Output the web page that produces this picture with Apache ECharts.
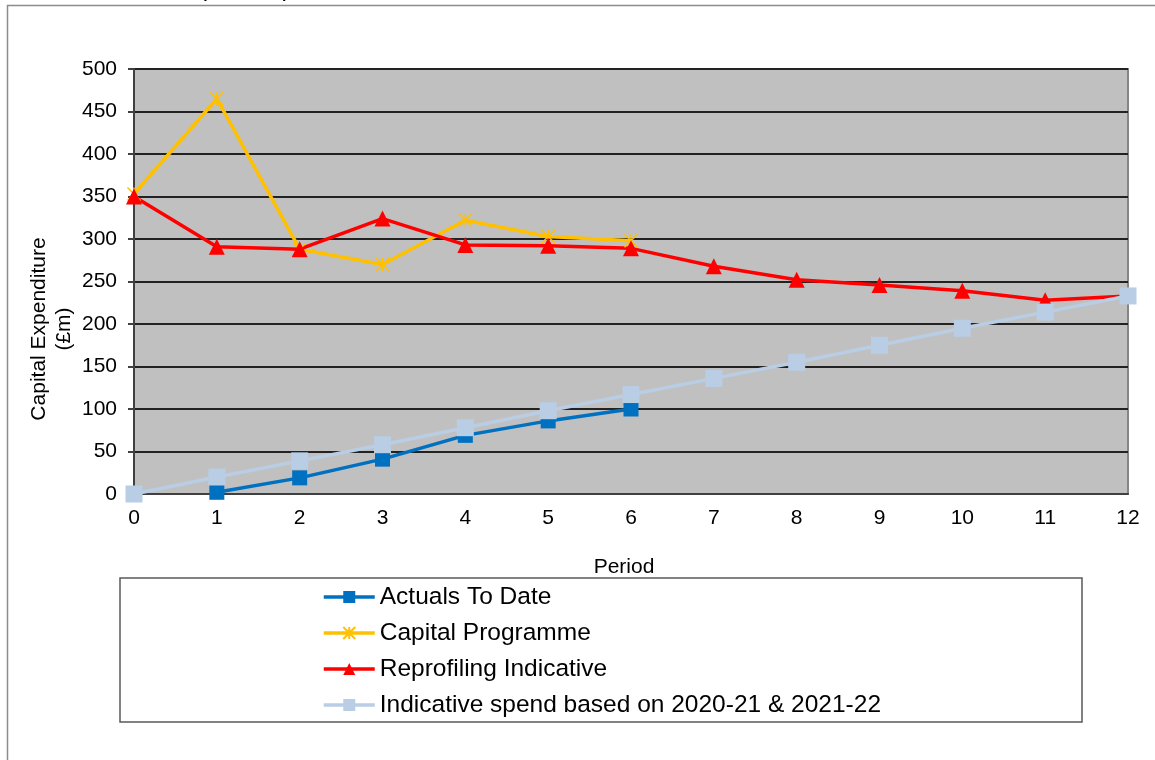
<!DOCTYPE html>
<html>
<head>
<meta charset="utf-8">
<title>Capital Expenditure</title>
<script src="https://cdn.jsdelivr.net/npm/echarts@6/dist/echarts.min.js"></script>
<style>
  html, body { margin: 0; padding: 0; background: #ffffff; }
  #chart { width: 1155px; height: 760px; }
</style>
</head>
<body>
<div id="chart"></div>
<script>
// Periods along the x axis
const periods = ['0', '1', '2', '3', '4', '5', '6', '7', '8', '9', '10', '11', '12'];

// Capital expenditure (£m) per period
const actualsToDate = [null, 2, 19, 41, 69, 86, 100, null, null, null, null, null, null];
const capitalProgramme = [353, 465, 288, 270, 322, 303, 298, null, null, null, null, null, null];
const reprofilingIndicative = [350, 291, 288, 324, 293, 292, 289, 268, 252, 246, 239, 228, 233];
const indicativeSpend = [0, 20, 39, 58, 78, 98, 117, 136, 155, 175, 195, 214, 233];

// Y axis range
const yMin = 0;
const yMax = 500;
const yStep = 50;

const FONT = "'Liberation Sans', Arial, sans-serif";

const chart = echarts.init(document.getElementById('chart'), null, { renderer: 'canvas' });

// asterisk-style marker (x with a vertical stroke)
const starPath = 'path://M0,0L10,10M10,0L0,10M5,0L5,10';

chart.setOption({
  backgroundColor: '#ffffff',
  animation: false,
  textStyle: { fontFamily: FONT },
  grid: {
    left: 134, top: 69, right: 27, bottom: 266,
    show: true,
    backgroundColor: '#c0c0c0',
    borderColor: '#858585',
    borderWidth: 2
  },
  graphic: [
    // outer frame
    {
      type: 'rect', silent: true, z: -10,
      shape: { x: 7.5, y: 5.5, width: 1300, height: 900 },
      style: { fill: 'none', stroke: '#8c8c8c', lineWidth: 1.5 }
    },
    // chart heading running off the top edge
    {
      type: 'text', silent: true,
      style: {
        x: 172, y: -10.5, text: 'Capital Expenditure',
        font: "24px 'Liberation Sans', Arial, sans-serif",
        fill: '#000000', verticalAlign: 'middle'
      }
    },
    // y axis title
    {
      type: 'text', silent: true,
      x: 52, y: 329, rotation: Math.PI / 2,
      style: {
        text: 'Capital Expenditure\n(£m)',
        font: "21px 'Liberation Sans', Arial, sans-serif",
        lineHeight: 25,
        fill: '#000000', align: 'center', verticalAlign: 'middle'
      }
    },
    // legend box
    {
      type: 'rect', silent: true, z: -1,
      shape: { x: 120, y: 578, width: 962, height: 144 },
      style: { fill: '#ffffff', stroke: '#5a5a5a', lineWidth: 1.5 }
    }
  ],
  legend: {
    orient: 'vertical',
    left: 322, top: 584,
    itemWidth: 51, itemHeight: 15,
    itemGap: 10,
    padding: 0,
    lineStyle: { width: 3.5 },
    textStyle: { fontSize: 24.5, lineHeight: 26, color: '#000000', fontFamily: FONT },
    data: ['Actuals To Date', 'Capital Programme', 'Reprofiling Indicative', 'Indicative spend based on 2020-21 & 2021-22']
  },
  xAxis: {
    type: 'category',
    data: periods,
    boundaryGap: false,
    name: 'Period',
    nameLocation: 'middle',
    nameGap: 63,
    nameTextStyle: { fontSize: 21, color: '#000000', padding: [0, 14, 0, 0] },
    axisLine: { show: true, lineStyle: { color: '#404040', width: 2 } },
    axisTick: { show: false },
    axisLabel: { fontSize: 21, color: '#000000', margin: 14 },
    splitLine: { show: false }
  },
  yAxis: {
    type: 'value',
    min: yMin, max: yMax, interval: yStep,
    axisLine: { show: true, lineStyle: { color: '#404040', width: 2 } },
    axisTick: { show: true, inside: false, length: 6, lineStyle: { color: '#404040', width: 2 } },
    axisLabel: { fontSize: 21, color: '#000000', margin: 17 },
    splitLine: { show: true, lineStyle: { color: '#222222', width: 2 } }
  },
  series: [
    {
      name: 'Actuals To Date',
      type: 'line',
      data: actualsToDate,
      symbol: 'rect', symbolSize: 15,
      showAllSymbol: true,
      lineStyle: { color: '#0070c0', width: 3.5 },
      itemStyle: { color: '#0070c0' }
    },
    {
      name: 'Capital Programme',
      type: 'line',
      data: capitalProgramme,
      symbol: starPath, symbolSize: 13,
      showAllSymbol: true,
      lineStyle: { color: '#ffc000', width: 3.5 },
      itemStyle: { color: '#ffc000', borderColor: '#ffc000', borderWidth: 1.5 }
    },
    {
      name: 'Reprofiling Indicative',
      type: 'line',
      data: reprofilingIndicative,
      symbol: 'triangle', symbolSize: 16,
      showAllSymbol: true,
      lineStyle: { color: '#ff0000', width: 3.5 },
      itemStyle: { color: '#ff0000' }
    },
    {
      name: 'Indicative spend based on 2020-21 & 2021-22',
      type: 'line',
      data: indicativeSpend,
      symbol: 'rect', symbolSize: 17,
      showAllSymbol: true,
      lineStyle: { color: '#b9cde5', width: 3.5 },
      itemStyle: { color: '#b9cde5' }
    }
  ]
});
</script>
</body>
</html>
